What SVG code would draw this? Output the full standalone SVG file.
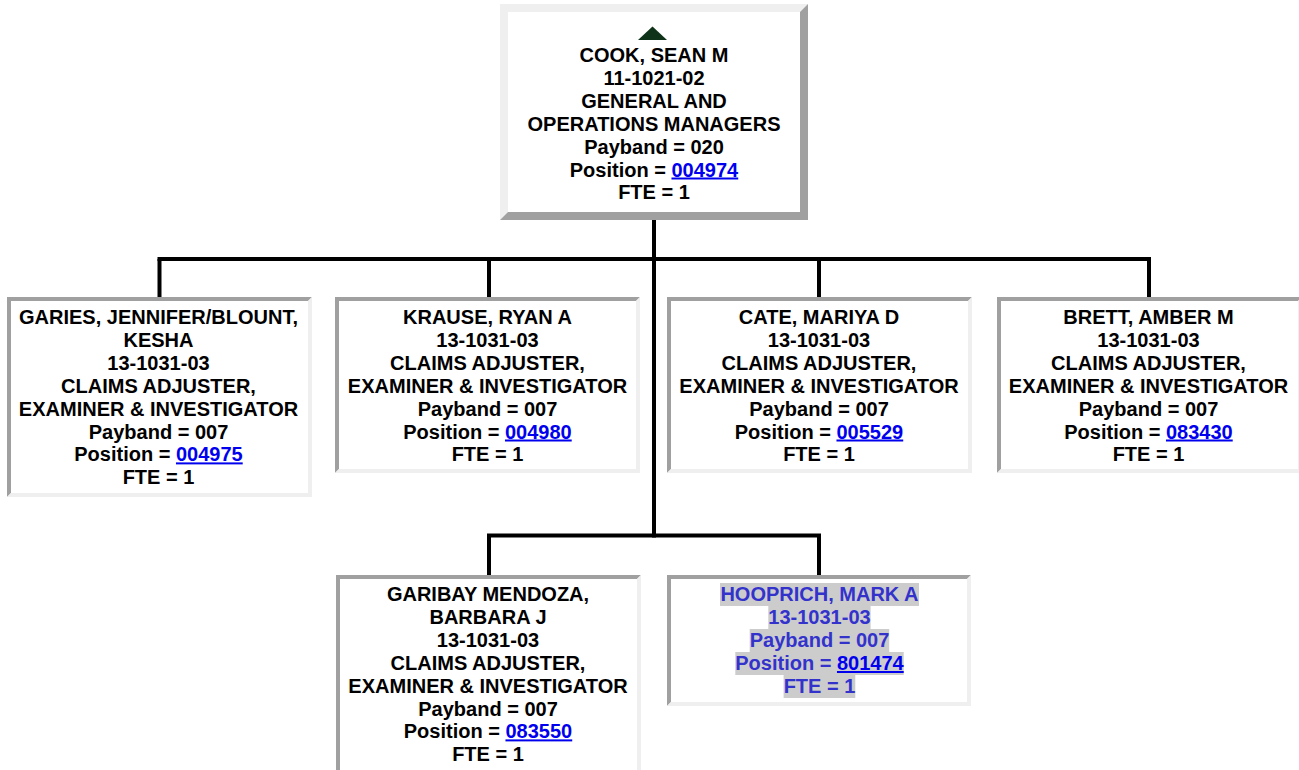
<svg xmlns="http://www.w3.org/2000/svg" width="1299" height="770" viewBox="0 0 1299 770">
<style>
.bg{fill:#ffffff}
.dk{fill:#a0a0a0}
.lt{fill:#efefef}
.t{font-family:"Liberation Sans",Arial,sans-serif;font-weight:bold;font-size:20px;fill:#000000;text-anchor:middle}
.lnk{fill:#0000ee;text-decoration:underline}
.h{fill:#3333cc}
.hl{fill:#cccccc}
.c{stroke:#000000;stroke-width:4;fill:none;stroke-linecap:butt}
</style>
<rect width="1299" height="770" fill="#ffffff"/>
<g id="connectors">
<path class="c" d="M654 220 V537.5"/>
<path class="c" d="M157.5 259 H1151"/>
<path class="c" d="M159.5 259 V297"/>
<path class="c" d="M489 259 V297"/>
<path class="c" d="M819 259 V297"/>
<path class="c" d="M1149 259 V297"/>
<path class="c" d="M487 535.5 H821"/>
<path class="c" d="M489 535.5 V575"/>
<path class="c" d="M819 535.5 V575"/>
</g>
<g id="node-cook">
<rect class="bg" x="500" y="4" width="308" height="216"/>
<polygon class="lt" points="500,4 808,4 800,12 508,12 508,212 500,220"/>
<polygon class="dk" points="808,4 808,220 500,220 508,212 800,212 800,12"/>
<polygon points="638,40 667,40 652.5,26.5" fill="#0f3319"/>
<text class="t" x="654" y="62">COOK, SEAN M</text>
<text class="t" x="654" y="84.9">11-1021-02</text>
<text class="t" x="654" y="107.8">GENERAL AND</text>
<text class="t" x="654" y="130.7">OPERATIONS MANAGERS</text>
<text class="t" x="654" y="153.6">Payband = 020</text>
<text class="t" x="654" y="176.5">Position = <tspan class="lnk">004974</tspan></text>
<text class="t" x="654" y="199.4">FTE = 1</text>
</g>
<g id="node-garies">
<rect class="bg" x="7" y="297" width="305" height="200"/>
<polygon class="dk" points="7,297 312,297 308,301 11,301 11,493 7,497"/>
<polygon class="lt" points="312,297 312,497 7,497 11,493 308,493 308,301"/>
<text class="t" x="158.5" y="324">GARIES, JENNIFER/BLOUNT,</text>
<text class="t" x="158.5" y="346.9">KESHA</text>
<text class="t" x="158.5" y="369.8">13-1031-03</text>
<text class="t" x="158.5" y="392.7">CLAIMS ADJUSTER,</text>
<text class="t" x="158.5" y="415.6">EXAMINER &amp; INVESTIGATOR</text>
<text class="t" x="158.5" y="438.5">Payband = 007</text>
<text class="t" x="158.5" y="461.4">Position = <tspan class="lnk">004975</tspan></text>
<text class="t" x="158.5" y="484.3">FTE = 1</text>
</g>
<g id="node-krause">
<rect class="bg" x="335" y="297" width="305" height="176"/>
<polygon class="dk" points="335,297 640,297 636,301 339,301 339,469 335,473"/>
<polygon class="lt" points="640,297 640,473 335,473 339,469 636,469 636,301"/>
<text class="t" x="487.5" y="324">KRAUSE, RYAN A</text>
<text class="t" x="487.5" y="346.9">13-1031-03</text>
<text class="t" x="487.5" y="369.8">CLAIMS ADJUSTER,</text>
<text class="t" x="487.5" y="392.7">EXAMINER &amp; INVESTIGATOR</text>
<text class="t" x="487.5" y="415.6">Payband = 007</text>
<text class="t" x="487.5" y="438.5">Position = <tspan class="lnk">004980</tspan></text>
<text class="t" x="487.5" y="461.4">FTE = 1</text>
</g>
<g id="node-cate">
<rect class="bg" x="667" y="297" width="305" height="176"/>
<polygon class="dk" points="667,297 972,297 968,301 671,301 671,469 667,473"/>
<polygon class="lt" points="972,297 972,473 667,473 671,469 968,469 968,301"/>
<text class="t" x="819" y="324">CATE, MARIYA D</text>
<text class="t" x="819" y="346.9">13-1031-03</text>
<text class="t" x="819" y="369.8">CLAIMS ADJUSTER,</text>
<text class="t" x="819" y="392.7">EXAMINER &amp; INVESTIGATOR</text>
<text class="t" x="819" y="415.6">Payband = 007</text>
<text class="t" x="819" y="438.5">Position = <tspan class="lnk">005529</tspan></text>
<text class="t" x="819" y="461.4">FTE = 1</text>
</g>
<g id="node-brett">
<rect class="bg" x="997" y="297" width="305" height="176"/>
<polygon class="dk" points="997,297 1302,297 1298,301 1001,301 1001,469 997,473"/>
<polygon class="lt" points="1302,297 1302,473 997,473 1001,469 1298,469 1298,301"/>
<text class="t" x="1148.5" y="324">BRETT, AMBER M</text>
<text class="t" x="1148.5" y="346.9">13-1031-03</text>
<text class="t" x="1148.5" y="369.8">CLAIMS ADJUSTER,</text>
<text class="t" x="1148.5" y="392.7">EXAMINER &amp; INVESTIGATOR</text>
<text class="t" x="1148.5" y="415.6">Payband = 007</text>
<text class="t" x="1148.5" y="438.5">Position = <tspan class="lnk">083430</tspan></text>
<text class="t" x="1148.5" y="461.4">FTE = 1</text>
</g>
<g id="node-garibay">
<rect class="bg" x="336" y="575" width="305" height="205"/>
<polygon class="dk" points="336,575 641,575 637,579 340,579 340,776 336,780"/>
<polygon class="lt" points="641,575 641,780 336,780 340,776 637,776 637,579"/>
<text class="t" x="488" y="601">GARIBAY MENDOZA,</text>
<text class="t" x="488" y="623.9">BARBARA J</text>
<text class="t" x="488" y="646.8">13-1031-03</text>
<text class="t" x="488" y="669.7">CLAIMS ADJUSTER,</text>
<text class="t" x="488" y="692.6">EXAMINER &amp; INVESTIGATOR</text>
<text class="t" x="488" y="715.5">Payband = 007</text>
<text class="t" x="488" y="738.4">Position = <tspan class="lnk">083550</tspan></text>
<text class="t" x="488" y="761.3">FTE = 1</text>
</g>
<g id="node-hooprich">
<rect class="bg" x="667" y="575" width="304" height="131"/>
<polygon class="dk" points="667,575 971,575 967,579 671,579 671,702 667,706"/>
<polygon class="lt" points="971,575 971,706 667,706 671,702 967,702 967,579"/>
<rect class="hl" x="720" y="583" width="199" height="23"/>
<rect class="hl" x="768.3" y="606" width="102.3" height="23"/>
<rect class="hl" x="749.7" y="629" width="139.5" height="23"/>
<rect class="hl" x="735.3" y="652" width="168.4" height="23"/>
<rect class="hl" x="783.6" y="675" width="71.7" height="23"/>
<text class="t h" x="819.5" y="601">HOOPRICH, MARK A</text>
<text class="t h" x="819.5" y="624">13-1031-03</text>
<text class="t h" x="819.5" y="647">Payband = 007</text>
<text class="t h" x="819.5" y="670">Position = <tspan class="lnk">801474</tspan></text>
<text class="t h" x="819.5" y="693">FTE = 1</text>
</g>
</svg>
